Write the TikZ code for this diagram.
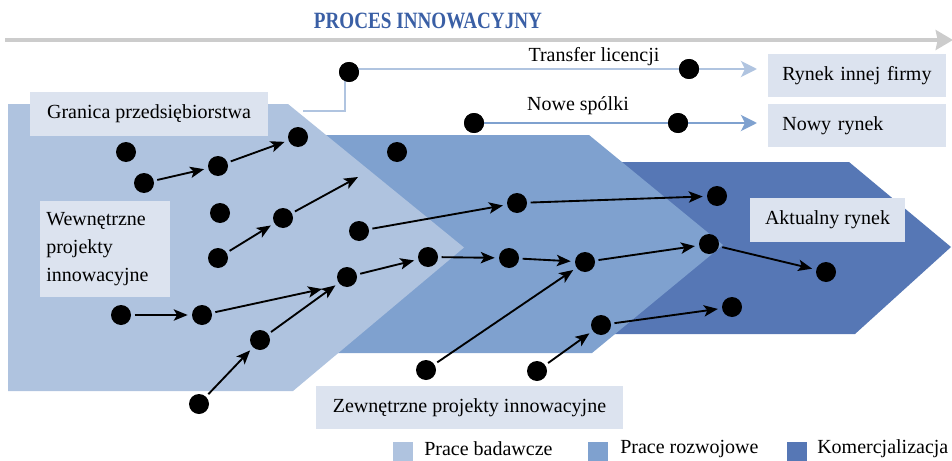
\documentclass[tikz,border=0pt]{standalone}
\usepackage{fontspec}
\setmainfont{Liberation Serif}
\usetikzlibrary{arrows.meta}
\definecolor{cLight}{RGB}{175,195,223}
\definecolor{cMid}{RGB}{127,161,207}
\definecolor{cDark}{RGB}{86,119,181}
\definecolor{cBox}{RGB}{220,227,239}
\definecolor{cTitle}{RGB}{58,95,165}
\definecolor{cGray}{RGB}{204,204,204}
\definecolor{cLink}{RGB}{176,196,224}
\definecolor{cLink2}{RGB}{127,161,207}
\tikzset{
  dot/.style={circle, fill=black, inner sep=0pt, minimum size=15pt},
  infobox/.style={fill=cBox, inner sep=0pt, font=\fontsize{15}{21}\selectfont},
  lbl/.style={font=\fontsize{15}{18}\selectfont, inner sep=0pt},
  flow/.style={line width=1.4pt, -{Stealth[length=10.5pt, width=8.5pt, inset=2.5pt]}, shorten <=2.5pt, shorten >=3pt},
  flowfree/.style={line width=1.4pt, -{Stealth[length=10.5pt, width=8.5pt, inset=2.5pt]}, shorten <=2.5pt},
  legsq/.style={minimum size=15pt, inner sep=0pt},
}
\begin{document}
\begin{tikzpicture}[x=0.75pt, y=-0.75pt]
\useasboundingbox (0,0) rectangle (952,460);
% title arrow
\node[font=\fontsize{17.5}{20}\selectfont\bfseries, text=cTitle, inner sep=0pt] (title) at (428,20.5) {\scalebox{0.82}[1]{PROCES INNOWACYJNY}};
\coordinate (ta) at (5,40);
\coordinate (tb) at (953,40);
\draw[cGray, line width=2.4pt, -{Triangle[length=13pt, width=15pt, inset=1.5pt]}] (ta) -- (tb);
% phases
\fill[cDark] (600,162) -- (849,162) -- (951,247) -- (855,334) -- (600,334) -- cycle;
\fill[cMid] (300,135) -- (589,135) -- (723,245) -- (592,353) -- (300,353) -- cycle;
\fill[cLight] (8,104) -- (288,104) -- (464,247.5) -- (293,391) -- (8,391) -- cycle;
% boxes
\node[infobox, minimum width=178.5pt, minimum height=33pt] (gran) at (149,114) {Granica przedsiębiorstwa};
\node[infobox, minimum width=97.5pt, minimum height=72pt, text width=88pt, inner xsep=5pt, align=left] (wew) at (105,249) {Wewnętrzne\\projekty\\innowacyjne};
\node[infobox, minimum width=230pt, minimum height=32pt] (zew) at (469.5,407.5) {Zewnętrzne projekty innowacyjne};
\node[infobox, minimum width=116pt, minimum height=33pt] (akt) at (827.5,220) {Aktualny rynek};
\node[infobox, minimum height=32pt, text width=112pt, inner xsep=10.75pt, align=left] (rif) at (857,75.5) {Rynek innej firmy};
\node[infobox, minimum height=32pt, text width=112pt, inner xsep=10.75pt, align=left] (nr) at (857,125.5) {Nowy rynek};
% top links
\coordinate (g0) at (303,111);
\coordinate (g1) at (345,111);
\coordinate (g2) at (345,69);
\coordinate (t1) at (757,69);
\coordinate (t2) at (757,123);
\node[dot] (dA) at (349,72) {};
\node[dot] (dB) at (689,69) {};
\node[dot] (dC) at (474,123) {};
\node[dot] (dD) at (678,123) {};
\draw[cLink, line width=2.2pt] (g0) -- (g1) -- (g2) -- (dB);
\draw[cLink, line width=2.2pt, -{Stealth[length=12pt, width=12pt, inset=3pt]}] (dB) -- (t1);
\draw[cLink2, line width=2.2pt, -{Stealth[length=12pt, width=12pt, inset=3pt]}] (dC) -- (t2);
\node[dot] at (dA) {};
\node[dot] at (dB) {};
\node[dot] at (dC) {};
\node[dot] at (dD) {};
\node[lbl] (tl) at (594,57) {Transfer licencji};
\node[lbl] (ns) at (578,106) {Nowe spólki};
% dots
\node[dot] (d1) at (126,152) {};
\node[dot] (d2) at (144,183) {};
\node[dot] (d3) at (218,166) {};
\node[dot] (d4) at (298,137) {};
\node[dot] (d5) at (397,152) {};
\node[dot] (d6) at (220,213) {};
\node[dot] (d7) at (283,218) {};
\node[dot] (d8) at (218,258) {};
\node[dot] (d9) at (359,231) {};
\node[dot] (d10) at (428,257) {};
\node[dot] (d11) at (347,277) {};
\node[dot] (d12) at (121,315) {};
\node[dot] (d13) at (202,315) {};
\node[dot] (d14) at (260,340) {};
\node[dot] (d15) at (199,404) {};
\node[dot] (d16) at (426,370) {};
\node[dot] (d17) at (517,203) {};
\node[dot] (d18) at (509,258) {};
\node[dot] (d19) at (585,262) {};
\node[dot] (d20) at (601,325) {};
\node[dot] (d21) at (537,371) {};
\node[dot] (d22) at (717,196) {};
\node[dot] (d23) at (709,244) {};
\node[dot] (d24) at (826,272) {};
\node[dot] (d25) at (732,307) {};
\coordinate (f1) at (358,177);
\coordinate (f2) at (322,289);
% arrows
\draw[flow] (d2) -- (d3);
\draw[flow] (d3) -- (d4);
\draw[flow] (d8) -- (d7);
\draw[flowfree] (d7) -- (f1);
\draw[flow] (d9) -- (d17);
\draw[flow] (d17) -- (d22);
\draw[flow] (d11) -- (d10);
\draw[flow] (d10) -- (d18);
\draw[flow] (d18) -- (d19);
\draw[flow] (d19) -- (d23);
\draw[flow] (d23) -- (d24);
\draw[flow] (d20) -- (d25);
\draw[flow] (d12) -- (d13);
\draw[flowfree] (d13) -- (f2);
\draw[flow] (d14) -- (d11);
\draw[flow] (d15) -- (d14);
\draw[flow] (d16) -- (d19);
\draw[flow] (d21) -- (d20);
% legend
\node[legsq, fill=cLight, anchor=north west] (l1) at (393,442) {};
\node[lbl, anchor=west] (l1t) at (424,449) {Prace badawcze};
\node[legsq, fill=cMid, anchor=north west] (l2) at (588,442) {};
\node[lbl, anchor=west] (l2t) at (620,449) {Prace rozwojowe};
\node[legsq, fill=cDark, anchor=north west] (l3) at (787,442) {};
\node[lbl, anchor=west] (l3t) at (817,449) {Komercjalizacja};
\end{tikzpicture}
\end{document}
